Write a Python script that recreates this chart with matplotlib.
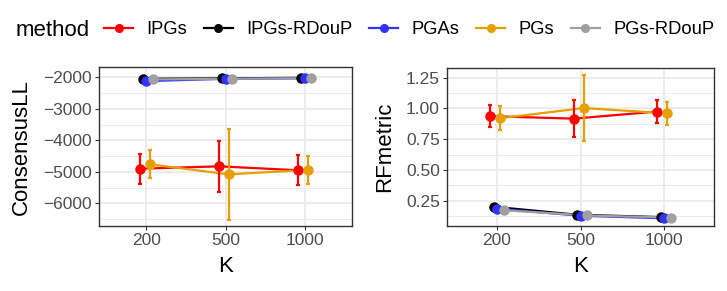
import numpy as np
import matplotlib.pyplot as plt
from matplotlib.lines import Line2D

plt.rcParams['font.family'] = ['Liberation Sans', 'DejaVu Sans']

K = ["200", "500", "1000"]
methods = ["IPGs", "IPGs-RDouP", "PGAs", "PGs", "PGs-RDouP"]
colors = ["#FF0000", "#000000", "#3333FF", "#E69F00", "#A0A0A0"]

# ConsensusLL mean and error per method
ll_mean = {
    "IPGs": [-4900, -4825, -4950],
    "IPGs-RDouP": [-2045, -2032, -2013],
    "PGAs": [-2118, -2045, -2030],
    "PGs": [-4760, -5080, -4940],
    "PGs-RDouP": [-2064, -2045, -2025],
}
ll_err = {
    "IPGs": [480, 820, 470],
    "IPGs-RDouP": [0, 0, 0],
    "PGAs": [0, 0, 0],
    "PGs": [445, 1440, 445],
    "PGs-RDouP": [0, 0, 0],
}

# RFmetric mean and error per method
rf_mean = {
    "IPGs": [0.937, 0.917, 0.975],
    "IPGs-RDouP": [0.201, 0.136, 0.117],
    "PGAs": [0.185, 0.128, 0.107],
    "PGs": [0.921, 1.003, 0.960],
    "PGs-RDouP": [0.172, 0.130, 0.113],
}
rf_err = {
    "IPGs": [0.09, 0.15, 0.095],
    "IPGs-RDouP": [0, 0, 0],
    "PGAs": [0, 0, 0],
    "PGs": [0.095, 0.27, 0.093],
    "PGs-RDouP": [0, 0, 0],
}

offsets = [-0.08, -0.04, 0.0, 0.04, 0.08]

fig = plt.figure(figsize=(7.27, 2.91), dpi=100)
ax1 = fig.add_axes([99 / 727, 1 - 226 / 291, 253 / 727, 158.7 / 291])
ax2 = fig.add_axes([446.7 / 727, 1 - 225.7 / 291, 267.6 / 727, 158 / 291])


def panel(ax, mean, err, ylabel, ylim, major, minor):
    x = np.arange(len(K))
    for m, c, off in zip(methods, colors, offsets):
        xs = x + off
        ax.plot(xs, mean[m], color=c, lw=1.6, zorder=3)
        ax.errorbar(xs, mean[m], yerr=err[m], fmt='o', color=c, ms=6.5,
                    elinewidth=1.6, capsize=1.6, capthick=1.6, zorder=4)
    ax.set_xlim(-0.6, 2.6)
    ax.set_ylim(*ylim)
    ax.set_xticks(x)
    ax.set_xticklabels(K)
    ax.set_yticks(major)
    ax.set_yticks(minor, minor=True)
    ax.grid(True, which='major', color='#EBEBEB', lw=1.3, zorder=0)
    ax.grid(True, which='minor', axis='y', color='#EBEBEB', lw=0.7, zorder=0)
    ax.set_axisbelow(True)
    for s in ax.spines.values():
        s.set_color('#333333')
        s.set_linewidth(1.0)
    ax.tick_params(which='major', length=3, width=0.8, color='#333333',
                   labelsize=12.5, labelcolor='#4D4D4D', pad=2)
    ax.tick_params(which='minor', length=0)
    ax.set_xlabel("K", fontsize=16, labelpad=6)
    ax.set_ylabel(ylabel, fontsize=16, labelpad=8)


panel(ax1, ll_mean, ll_err, "ConsensusLL", (-6720, -1680),
      [-6000, -5000, -4000, -3000, -2000],
      [-6500, -5500, -4500, -3500, -2500])
ax1.set_yticklabels(["\u22126000", "\u22125000", "\u22124000", "\u22123000", "\u22122000"])
panel(ax2, rf_mean, rf_err, "RFmetric", (0.047, 1.331),
      [0.25, 0.5, 0.75, 1.0, 1.25],
      [0.125, 0.375, 0.625, 0.875, 1.125])
ax2.set_yticklabels(["0.25", "0.50", "0.75", "1.00", "1.25"])

handles = [Line2D([], [], color=c, marker='o', ms=5.5, lw=1.6) for c in colors]
fig.text(16 / 727, 1 - 30 / 291, "method", fontsize=16, va='center', ha='left')
fig.legend(handles, methods, loc='center left', bbox_to_anchor=(104 / 727, 1 - 30 / 291),
           ncol=5, frameon=False, fontsize=13.2, handlelength=1.6, handletextpad=0.72,
           columnspacing=0.9, borderpad=0, borderaxespad=0)

fig.savefig("out.png", dpi=100)
